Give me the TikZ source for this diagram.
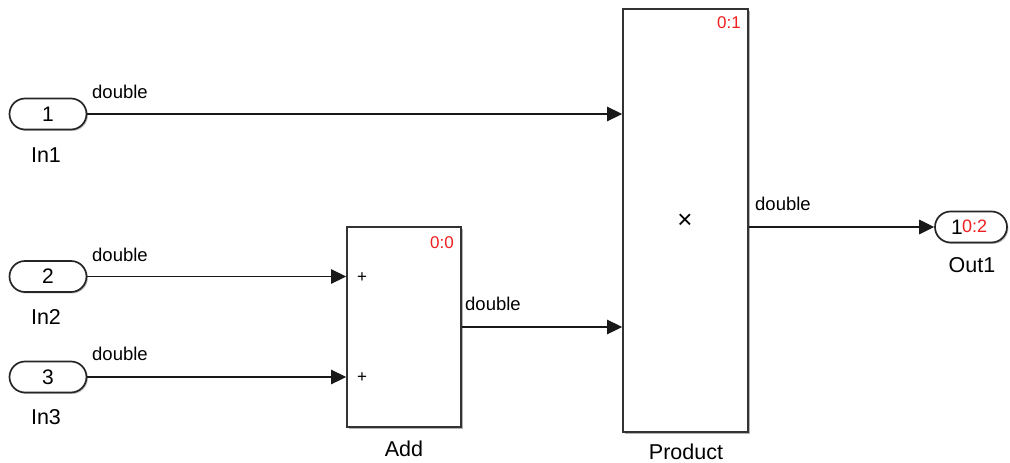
\documentclass[tikz,border=0pt]{standalone}
\usepackage{fontspec}
\setmainfont{Liberation Sans}
\usetikzlibrary{arrows.meta,shadows}
\definecolor{simred}{RGB}{240,30,30}
\tikzset{
  blk/.style={draw=black!80, line width=1.8pt, fill=white, inner sep=0pt,
    drop shadow={shadow xshift=1.8pt, shadow yshift=-1.8pt, opacity=0.3, fill=black}},
  port/.style={draw=black!85, line width=1.7pt, fill=white, rounded corners=15.5pt,
    minimum width=77pt, minimum height=31pt, inner sep=0pt,
    font=\fontsize{21}{21}\selectfont,
    drop shadow={shadow xshift=1.4pt, shadow yshift=-1.4pt, opacity=0.25, fill=black}},
  conn/.style={line width=1.3pt, draw=black!90, -{Triangle[length=15pt,width=14.5pt]}},
  sig/.style={anchor=base west, inner sep=0pt, font=\fontsize{18.5}{18.5}\selectfont},
  lbl/.style={inner sep=0pt, font=\fontsize{21.5}{21.5}\selectfont},
  idx/.style={inner sep=0pt, text=simred, font=\fontsize{17}{17}\selectfont},
  sgn/.style={inner sep=0pt, font=\fontsize{17}{17}\selectfont}
}
\begin{document}
\begin{tikzpicture}[x=1pt,y=-1pt]
\useasboundingbox (0,0) rectangle (1010,463);
% ports
\node[port] (in1) at (48,114) {1};
\node[port] (in2) at (48,276.5) {2};
\node[port] (in3) at (48,377) {3};
\node[port, minimum width=72pt] (out1) at (971,227) {};
\node[inner sep=0pt, font=\fontsize{21}{21}\selectfont, anchor=east] (out1num) at (963,227) {1};
\node[idx, font=\fontsize{18}{18}\selectfont, anchor=west] (out1idx) at (962,226) {0:2};
% labels
\node[lbl] (in1lbl) at (46,155) {In1};
\node[lbl] (in2lbl) at (46,317) {In2};
\node[lbl] (in3lbl) at (46,417) {In3};
\node[lbl] (out1lbl) at (972,265) {Out1};
% blocks
\node[blk, minimum width=114pt, minimum height=200pt] (add) at (404,327) {};
\node[blk, minimum width=125pt, minimum height=423pt] (prod) at (685.5,220.5) {};
\node[lbl] (addlbl) at (404,449) {Add};
\node[lbl] (prodlbl) at (686,452) {Product};
\node[idx, anchor=east] (addidx) at (454,243) {0:0};
\node[idx, anchor=east] (prodidx) at (741,23) {0:1};
\node[sgn] (plus1) at (362,278) {+};
\node[sgn] (plus2) at (362,378) {+};
\node[inner sep=0pt, font=\fontsize{26}{26}\selectfont] (times) at (685,221) {×};
% connectors
\draw[conn] (in1.east) -- (in1.east -| prod.west);
\draw[conn] (in2.east) -- (in2.east -| add.west);
\draw[conn] (in3.east) -- (in3.east -| add.west);
\draw[conn] (add.east) -- (add.east -| prod.west);
\coordinate (pout) at (prod.east |- out1.west);
\draw[conn] (pout) -- (out1.west);
% signal labels
\node[sig] (s1) at (92,98) {double};
\node[sig] (s2) at (92,261) {double};
\node[sig] (s3) at (92,360) {double};
\node[sig] (s4) at (465,310) {double};
\node[sig] (s5) at (755,210) {double};
\end{tikzpicture}
\end{document}
